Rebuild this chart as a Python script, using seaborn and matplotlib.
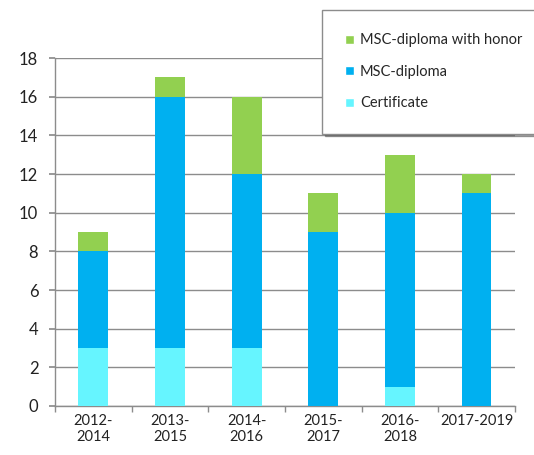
import matplotlib
matplotlib.use("Agg")
import matplotlib.pyplot as plt
import seaborn as sns
import pandas as pd
import numpy as np
from matplotlib.patches import Patch

categories = ["2012-\n2014", "2013-\n2015", "2014-\n2016", "2015-\n2017", "2016-\n2018", "2017-2019"]
certificate = [3, 3, 3, 0, 1, 0]
msc_diploma = [5, 13, 9, 9, 9, 11]
msc_honor = [1, 1, 4, 2, 3, 1]
y_ticks = [0, 2, 4, 6, 8, 10, 12, 14, 16, 18]

c_honor = "#92D050"
c_msc = "#00B0F0"
c_cert = "#66F5FF"

sns.set_theme(style="white")
plt.rcParams["font.family"] = ["Lato", "DejaVu Sans"]

df = pd.DataFrame({
    "cat": categories,
    "cert": certificate,
    "msc": msc_diploma,
    "honor": msc_honor,
})
df["lvl2"] = df["cert"] + df["msc"]
df["lvl3"] = df["lvl2"] + df["honor"]

fig = plt.figure(figsize=(5.34, 4.55), dpi=100)
ax = fig.add_axes([0.103, 0.1077, 0.861, 0.7648])

for col, color in [("lvl3", c_honor), ("lvl2", c_msc), ("cert", c_cert)]:
    sns.barplot(data=df, x="cat", y=col, color=color, width=0.39,
                saturation=1, ax=ax, zorder=3, edgecolor="none", linewidth=0)

ax.set_ylim(0, 18)
ax.set_xlim(-0.5, len(categories) - 0.5)
ax.set_yticks(y_ticks)
ax.set_yticklabels([str(t) for t in y_ticks], fontsize=12, color="#222222")
ax.yaxis.grid(True, color="#8c8c8c", linewidth=1, zorder=0)
ax.set_axisbelow(True)
ax.set_xlabel("")
ax.set_ylabel("")
ax.set_xticks(range(len(categories)))
ax.set_xticklabels(categories, fontsize=10.5, color="#222222", linespacing=1.15)
ax.tick_params(axis="x", length=0, pad=6)
ax.set_xticks(np.arange(-0.5, len(categories), 1), minor=True)
ax.tick_params(axis="x", which="minor", length=4, color="#8c8c8c", bottom=True)
ax.tick_params(axis="y", length=4, color="#8c8c8c", left=True, pad=8)
for s in ["top", "right"]:
    ax.spines[s].set_visible(False)
for s in ["left", "bottom"]:
    ax.spines[s].set_color("#8c8c8c")
    ax.spines[s].set_linewidth(1)

handles = [Patch(facecolor=c_honor, label="MSC-diploma with honor"),
           Patch(facecolor=c_msc, label="MSC-diploma"),
           Patch(facecolor=c_cert, label="Certificate")]
leg = fig.legend(handles=handles, loc="upper left", bbox_to_anchor=(0.603, 0.978),
                 frameon=True, fancybox=False, shadow=True, fontsize=10.5,
                 handlelength=0.6, handleheight=0.6, handletextpad=0.4,
                 labelspacing=1.2, borderpad=1.6, borderaxespad=0)
leg.get_frame().set_edgecolor("#8c8c8c")
leg.get_frame().set_linewidth(1)
leg.set_zorder(10)

fig.savefig("out.png", dpi=100)
